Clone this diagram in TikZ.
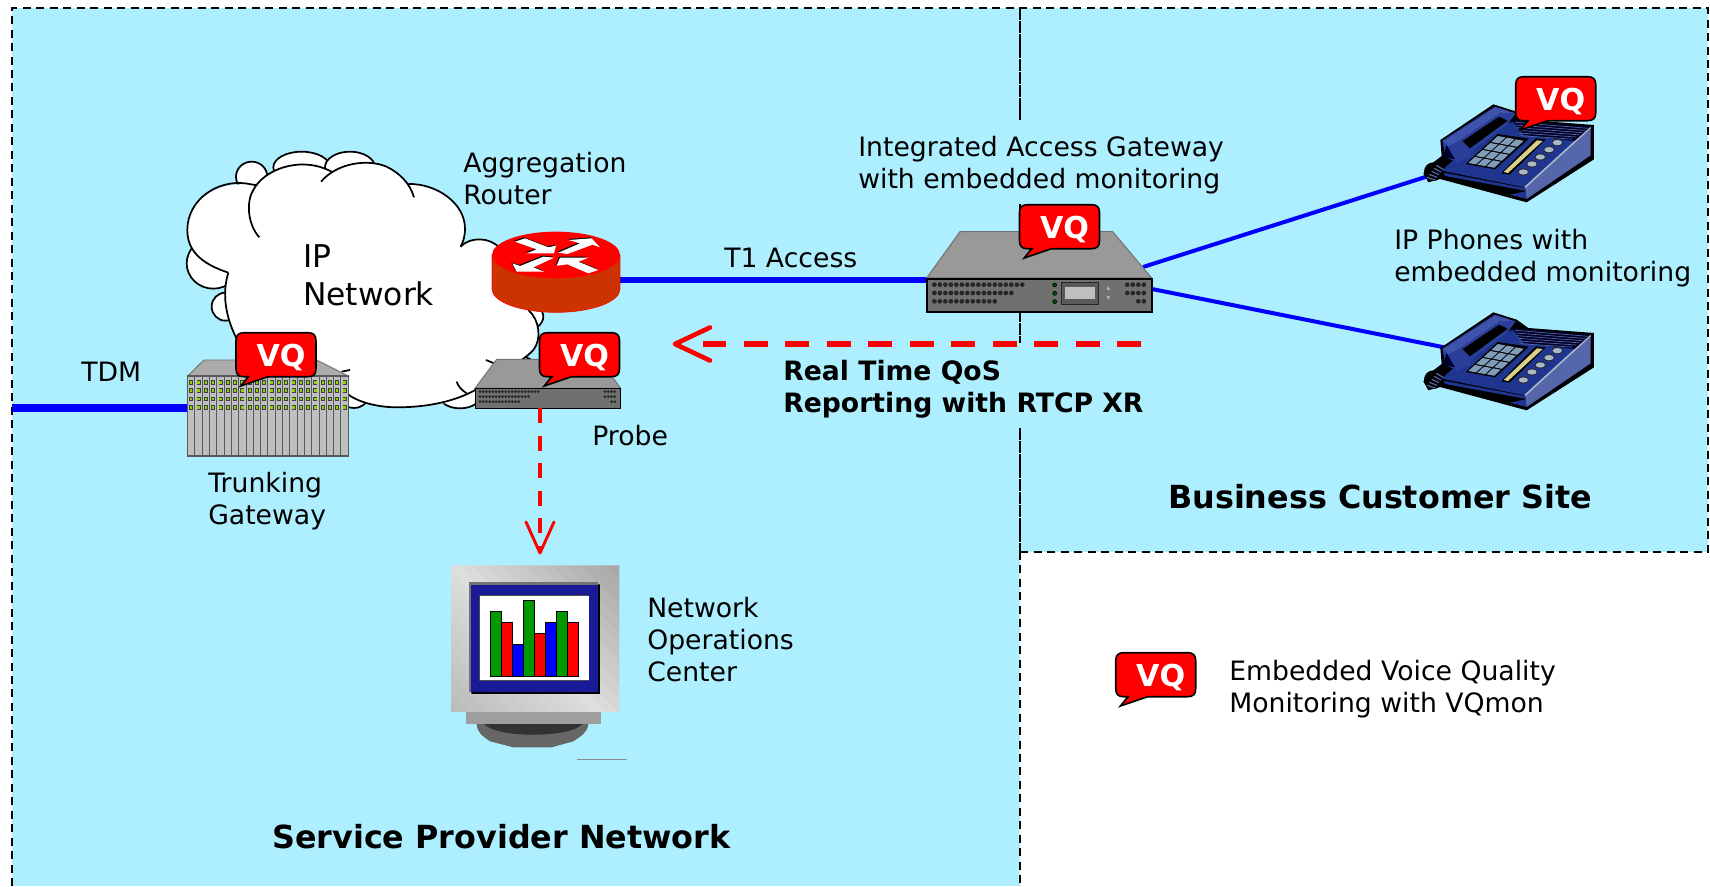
\documentclass[tikz,border=0pt]{standalone}
\usepackage{fontspec}
\setmainfont{DejaVu Sans}
\usetikzlibrary{calc}
\definecolor{skyfill}{HTML}{AEEFFF}
\definecolor{wire}{HTML}{0000FF}
\definecolor{alert}{HTML}{FF0000}
\definecolor{routerside}{HTML}{CC3300}
\definecolor{phonetop}{HTML}{1F3590}
\definecolor{phoneside}{HTML}{5566AA}
\definecolor{phonehand}{HTML}{2A3F9A}
\definecolor{phonelight}{HTML}{3F53AC}
\definecolor{phonekey}{HTML}{7F9DB8}
\definecolor{phonebar}{HTML}{D8D088}
\definecolor{phonebtn}{HTML}{A8B8C8}
\definecolor{swtop}{HTML}{999999}
\definecolor{swfront}{HTML}{707070}
\definecolor{navyscr}{HTML}{1A1A99}
\definecolor{ledgreen}{HTML}{8FD400}
\tikzset{
  lab/.style={anchor=base west,inner sep=0pt,align=left,font=\fontsize{20}{24}\selectfont},
  labbig/.style={lab,font=\fontsize{23.5}{28.3}\selectfont},
  labbold/.style={lab,font=\fontsize{20}{24}\selectfont\bfseries},
  labhead/.style={lab,font=\fontsize{23.85}{28}\selectfont\bfseries},
  vqtext/.style={inner sep=0pt,text=white,font=\fontsize{22.6}{24}\selectfont\bfseries},
  vqshape/.style={fill=alert,draw=black,line width=1.2pt},
  region/.style={line width=1.5pt,dash pattern=on 6pt off 4.1pt},
  midline/.style={line width=.9pt,dash pattern=on 9pt off .6pt},
  thickwire/.style={wire,line width=5.8pt},
  midwire/.style={wire,line width=4.2pt},
  phonewire/.style={wire,line width=3pt},
  cloudline/.style={draw=black,line width=1.3pt},
  device/.style={inner sep=0pt,minimum size=0pt},
  alarmlong/.style={alert,line width=4.5pt,dash pattern=on 18pt off 13.1pt},
  alarmshort/.style={alert,line width=3pt,dash pattern=on 11.25pt off 9.4pt},
  barb/.style={alert,line cap=round,line join=round},
  bar/.style={draw=black,line width=.6pt}
}
\newcommand{\vqbubble}[3]{%
  \begin{scope}[shift={(#2,#3)}]
    \draw[vqshape] (8,0) -- (72,0) .. controls (77.5,0) and (80,2.5) .. (80,8) -- (80,36)
      .. controls (80,41.5) and (77.5,44) .. (72,44) -- (32,44) -- (4.7,53.3) -- (12.3,44) -- (8,44)
      .. controls (2.5,44) and (0,41.5) .. (0,36) -- (0,8) .. controls (0,2.5) and (2.5,0) .. (8,0) -- cycle;
    \node[vqtext] (#1) at (45,24.5) {VQ};
  \end{scope}}
\newcommand{\dotrow}[5]{% startx step n y r
  \foreach \k in {1,...,#3}{\fill[black!85] ({#1+(\k-1)*#2},#4) circle (#5);}}
\newcommand{\phoneart}[3]{%
  \node[device,minimum width=115pt,minimum height=80pt] (#1) at ({#2+100},{#3+70}) {};
  \begin{scope}[shift={(#2,#3)},scale=0.3333]
    \fill[black] (25,310) -- (45,285) -- (80,258) -- (76,210) -- (235,103) -- (305,125) -- (340,150) -- (537,165)
       -- (537,268) -- (335,397) -- (75,327) -- (40,337) -- cycle;
    \fill[phonetop] (80,302) -- (200,195) -- (300,152) -- (527,172) -- (330,352) -- cycle;
    \fill[phoneside] (330,352) -- (527,172) -- (527,256) -- (335,387) -- cycle;
    \draw[color=phonebtn,line width=1.2pt] (330,352) -- (527,172);
    \fill[phonetop] (85,308) -- (330,354) -- (330,362) -- (90,318) -- cycle;
    \fill[phonetop] (285,374) -- (332,364) -- (335,387) -- cycle;
    \fill[black!85!blue] (290,152) -- (527,170) -- (478,213) -- (328,195) -- cycle;
    \foreach \t in {0,1,2,3,4,5}{
      \draw[phoneside,line width=.5pt] ({300+\t*3},{157+\t*8}) -- ({520-\t*9},{175+\t*6.5});}
    \fill[phonehand] (82,212) -- (240,110) -- (302,130) -- (280,160) -- (168,245) -- (165,260) -- (130,278) -- (92,262) -- cycle;
    \fill[phonelight] (85,214) -- (240,112) -- (298,130) -- (255,128) -- (125,216) -- (100,228) -- cycle;
    \fill[black] (143,213) -- (252,140) -- (278,152) -- (165,235) -- cycle;
    \fill[black!80!blue] (83,262) -- (120,268) -- (95,225) -- cycle;
    \fill[black] (152,282) -- (248,192) -- (342,206) -- (240,298) -- cycle;
    \foreach \i in {0,...,3}{\foreach \j in {0,1,2}{
      \fill[phonekey] ({160+\i*23+\j*27.3},{279-\i*21+\j*5}) -- ++(19.5,-18) -- ++(23,4.3) -- ++(-19.5,18) -- cycle;}}
    \fill[black] (258,310) -- (362,205) -- (392,208) -- (284,314) -- cycle;
    \fill[phonebar] (266,306) -- (366,211) -- (383,213) -- (279,309) -- cycle;
    \foreach \p/\q in {427/218,402/239,376/261,351/282,325/306}{
      \fill[black!85] (\p,\q) ellipse [x radius=17,y radius=11];
      \fill[phonebtn] (\p,\q) ellipse [x radius=14,y radius=8];}
    \fill[black] (55,305) ellipse [x radius=28,y radius=28];
    \foreach \t in {0,...,4}{
      \draw[phoneside,line width=.9pt] ({36+\t*7},{322-\t*9}) -- ({60+\t*6},{330-\t*8});}
  \end{scope}}
\begin{document}
\begin{tikzpicture}[x=0.75pt,y=-0.75pt]
\useasboundingbox (0,0) rectangle (1710,886);
\fill[white] (0,0) rectangle (1710,886);
% regions
\fill[skyfill] (12,8) rectangle (1020,886);
\fill[skyfill] (1020,8) rectangle (1708,552);
\draw[region] (12,886) -- (12,8) -- (1708,8) -- (1708,552) -- (1020,552);
\draw[region] (1020,552) -- (1020,886);
\draw[midline] (1020,8) -- (1020,120);
\draw[midline] (1020,204) -- (1020,210);
\draw[midline] (1020,310) -- (1020,343);
\draw[midline] (1020,428) -- (1020,552);
% connector ports
\coordinate (tdmfree) at (12,408);
\coordinate (trunkport) at (190,408);
\coordinate (routerport) at (615,280);
\coordinate (iagwest) at (930,280);
\coordinate (iagupper) at (1143,267);
\coordinate (iaglower) at (1152,289);
\coordinate (phoneAport) at (1427,176.5);
\coordinate (phoneBport) at (1445,347.5);
\coordinate (reportstart) at (1141,344);
\coordinate (reportend) at (703,344);
\coordinate (reporttip) at (675,344);
\coordinate (probeport) at (540,408);
\coordinate (noctip) at (540,553);
% wires
\draw[thickwire] (tdmfree) -- (trunkport);
\draw[midwire] (routerport) -- (iagwest);
\draw[phonewire] (iagupper) -- (phoneAport);
\draw[phonewire] (iaglower) -- (phoneBport);
% cloud
\begin{scope}[shift={(150,130)},scale=0.3333]
  \foreach \cx/\cy/\rx/\ry in {305/140/47/45,455/112/85/47,600/112/75/47,190/400/80/76,226/530/41/42,612/800/42/34,930/800/60/35,1130/560/50/40}{
    \filldraw[fill=white,cloudline] (\cx,\cy) ellipse [x radius=\rx,y radius=\ry];}
  \fill[white] (328,322) .. controls (290,280) and (290,210) .. (310,180) .. controls (340,120) and (450,75) .. (545,125) -- cycle;
  \fill[white] (513,155) .. controls (560,100) and (650,85) .. (710,110) .. controls (750,130) and (780,160) .. (792,202) -- cycle;
  \fill[white] (235,428) .. controls (150,400) and (112,360) .. (112,300) .. controls (112,210) and (200,150) .. (320,165)
    -- (430,120) -- (640,120) -- (775,162) .. controls (860,160) and (945,220) .. (945,295) .. controls (945,320) and (940,335) .. (932,350)
    .. controls (960,320) and (1020,320) .. (1050,355) -- (1135,540) .. controls (1170,570) and (1175,630) .. (1150,660)
    -- (1000,780) .. controls (900,830) and (800,832) .. (740,832) .. controls (680,832) and (620,815) .. (590,790)
    -- (262,630) .. controls (215,540) and (222,470) .. (235,428) -- cycle;
  \draw[cloudline] (235,428) .. controls (150,400) and (112,360) .. (112,300) .. controls (112,210) and (200,150) .. (285,160) -- (322,166);
  \draw[cloudline] (328,322) .. controls (290,280) and (290,210) .. (310,180) .. controls (340,120) and (450,75) .. (545,125);
  \draw[cloudline] (513,155) .. controls (560,100) and (650,85) .. (710,110) .. controls (750,130) and (780,160) .. (792,202);
  \draw[cloudline] (775,162) .. controls (860,160) and (945,220) .. (945,295) .. controls (945,320) and (940,335) .. (932,350);
  \draw[cloudline] (932,350) .. controls (960,320) and (1020,320) .. (1050,355);
  \draw[cloudline] (1135,540) .. controls (1170,570) and (1175,630) .. (1150,660) .. controls (1140,672) and (1125,682) .. (1115,690);
  \draw[cloudline] (1008,690) -- (1032,700);
  \draw[cloudline] (1125,680) -- (1155,695);
  \draw[cloudline] (920,755) .. controls (925,770) and (935,780) .. (950,790);
  \draw[cloudline] (985,775) .. controls (900,825) and (800,832) .. (740,832) .. controls (680,832) and (620,815) .. (590,790);
  \draw[cloudline] (235,428) .. controls (222,470) and (215,540) .. (262,630);
  \draw[cloudline] (575,725) -- (600,720);
\end{scope}
% router
\node[device,minimum width=96pt,minimum height=61pt] (router) at (556,272) {};
\begin{scope}[shift={(480,220)},scale=0.3333]
  \fill[routerside,draw=alert!70!routerside,line width=.5pt] (36,105) -- (36,207) arc [start angle=180,end angle=0,x radius=192,y radius=70] -- (420,105) -- cycle;
  \fill[alert] (228,105) ellipse [x radius=192,y radius=70];
  \foreach \dd/\cc in {1/black,0/white}{
    \begin{scope}[shift={(-3*\dd,-3*\dd)}]
    \fill[\cc] (105,65) -- (135,55) -- (205,82) -- (228,77) -- (222,100) -- (140,100) -- (170,88) -- cycle;
    \fill[\cc] (235,98) -- (300,70) -- (265,60) -- (335,55) -- (360,82) -- (338,74) -- (262,102) -- cycle;
    \fill[\cc] (222,113) -- (160,142) -- (193,155) -- (110,155) -- (97,130) -- (120,138) -- (190,110) -- cycle;
    \fill[\cc] (230,137) -- (240,113) -- (325,113) -- (295,125) -- (355,150) -- (325,160) -- (262,133) -- cycle;
    \end{scope}}
\end{scope}
% trunking gateway
\node[device,minimum width=120pt,minimum height=72pt] (trunk) at (255,410) {};
\begin{scope}[shift={(150,130)},scale=0.3333]
  \filldraw[fill=black!33,draw=black!55,line width=.7pt] (113,738) -- (162,690) -- (500,690) -- (595,738) -- cycle;
  \filldraw[fill=black!25,draw=black!65,line width=.8pt] (113,738) rectangle (595,978);
  \foreach \s in {1,...,21}{\draw[black!65,line width=.7pt] ({113+\s*21.9},738) -- ({113+\s*21.9},978);}
  \foreach \s in {0,...,21}{\foreach \q in {757,782,807,832}{
    \fill[black!75] ({124+\s*21.9-6},{\q-7}) rectangle ({124+\s*21.9+6},{\q+7});
    \fill[ledgreen] ({124+\s*21.9-3.5},{\q-4}) rectangle ({124+\s*21.9+3.5},{\q+4});}}
\end{scope}
% probe
\node[device,minimum width=110pt,minimum height=22pt] (probe) at (540,394) {};
\begin{scope}[shift={(150,130)},scale=0.3333]
  \filldraw[fill=swtop,draw=black!55,line width=.7pt] (975,775) -- (1040,688) -- (1350,688) -- (1412,775) -- cycle;
  \filldraw[fill=swfront,draw=black,line width=1pt] (977,775) rectangle (1411,835);
  \dotrow{990}{9.7}{19}{785}{4.5}
  \dotrow{990}{9.7}{16}{800}{4.5}
  \dotrow{990}{9.7}{13}{815}{4.5}
  \dotrow{1365}{9.7}{4}{785}{4.5}
  \dotrow{1365}{9.7}{4}{800}{4.5}
  \dotrow{1385}{9.7}{2}{815}{4.5}
\end{scope}
% integrated access gateway
\node[device,minimum width=175pt,minimum height=60pt] (iag) at (1039,275) {};
\begin{scope}[shift={(920,190)},scale=0.3333]
  \filldraw[fill=swtop,draw=black!55,line width=.8pt] (20,264) -- (120,125) -- (578,125) -- (695,264) -- cycle;
  \filldraw[fill=swfront,draw=black,line width=1.3pt] (20,266) rectangle (695,365);
  \dotrow{43}{16.5}{17}{284}{7}
  \dotrow{43}{16.5}{15}{309}{7}
  \dotrow{43}{16.5}{12}{334}{7}
  \dotrow{622}{16.5}{4}{284}{7}
  \dotrow{622}{16.5}{4}{309}{7}
  \dotrow{655}{16.5}{2}{334}{7}
  \foreach \q in {285,310,335}{\filldraw[fill=green!30!black,draw=black,line width=.4pt] (404,\q) circle (6);}
  \filldraw[fill=black!65,draw=black!85,line width=.7pt] (423,277) rectangle (535,342);
  \fill[black!25] (435,292) rectangle (525,327);
  \fill[black!30] (560,300) -- (570,300) -- (565,288) -- cycle;
  \fill[black!30] (560,318) -- (570,318) -- (565,330) -- cycle;
\end{scope}
% monitor
\node[device,minimum width=126pt,minimum height=138pt] (noc) at (532,629) {};
\begin{scope}[shift={(430,540)},scale=0.3333]
  \fill[black!60] (140,552) -- (475,552) .. controls (472,580) and (450,590) .. (430,604) -- (365,622) -- (250,622) -- (180,604) .. controls (160,590) and (142,580) .. (140,552) -- cycle;
  \fill[black!80] (162,552) .. controls (200,595) and (420,595) .. (458,552) -- cycle;
  \fill[black!38] (108,516) rectangle (513,552);
  \begin{scope}
    \clip (63,76) rectangle (568,516);
    \foreach \t in {0,...,23}{
      \pgfmathsetmacro{\bandstart}{\t*40}
      \pgfmathsetmacro{\bandend}{\t*40+42}
      \pgfmathsetmacro{\bandgray}{\t<12 ? 34-1.75*\t : 13+1.25*(\t-12)}
      \fill[black!\bandgray] ({568-\bandstart},76) -- (568,{76+\bandstart}) -- (568,{76+\bandend}) -- ({568-\bandend},76) -- cycle;}
  \end{scope}
  \fill[black!55] (118,127) rectangle (505,456);
  \fill[black] (124,462) -- (510,462) -- (510,133) -- (504,133) -- (504,456) -- (124,456) -- cycle;
  \fill[navyscr] (124,135) rectangle (504,456);
  \fill[black!70] (146,165) rectangle (478,423);
  \fill[white] (149,168) rectangle (476,421);
  \foreach \l/\r/\t/\c in {181/215/215/green!60!black,215/248/247/alert,248/280/312/wire,280/314/182/green!60!black,314/346/280/alert,346/379/247/wire,379/413/215/green!60!black,413/446/247/alert}{
    \filldraw[fill=\c,bar] (\l,\t) rectangle (\r,408);}
  \draw[black!45,line width=.5pt] (440,658) -- (590,658);
\end{scope}
% phones
\phoneart{phoneA}{1415}{70}
\phoneart{phoneB}{1415}{278}
% red reports
\draw[alarmlong] (reportstart) -- (reportend);
\draw[barb,line width=3.5pt] ($(reporttip)+(35,-16.5)$) -- (reporttip) -- ($(reporttip)+(35,16.5)$);
\draw[alarmshort] (probeport) -- (noctip);
\draw[barb,line width=2.2pt] ($(noctip)+(-14,-31)$) -- (noctip) -- ($(noctip)+(14,-31)$);
% bubbles
\vqbubble{vqtrunk}{236}{332.7}
\vqbubble{vqprobe}{539.5}{332.7}
\vqbubble{vqiag}{1019.5}{204.7}
\vqbubble{vqphone}{1515.7}{76.7}
\vqbubble{vqlegend}{1115.7}{652.7}
% labels
\node[lab] (tagg) at (463,204) {Aggregation\\Router};
\node[labbig] (tip) at (303,305) {IP\\Network};
\node[lab] (tt1) at (724,267) {T1 Access};
\node[lab] (tiag) at (858,188) {Integrated Access Gateway\\with embedded monitoring};
\node[lab] (tphones) at (1394,281) {IP Phones with\\embedded monitoring};
\node[lab] (ttdm) at (81,381) {TDM};
\node[lab] (ttrunk) at (208,524) {Trunking\\Gateway};
\node[lab] (tprobe) at (592,445) {Probe};
\node[lab] (tnoc) at (647,681) {Network\\Operations\\Center};
\node[labbold] (treport) at (783,412.7) {Real Time QoS\\Reporting with RTCP XR};
\node[labhead] (tsp) at (272,848) {Service Provider Network};
\node[labhead] (tbiz) at (1168,508) {Business Customer Site};
\node[lab] (tlegend) at (1229,712) {Embedded Voice Quality\\Monitoring with VQmon};
\end{tikzpicture}
\end{document}
